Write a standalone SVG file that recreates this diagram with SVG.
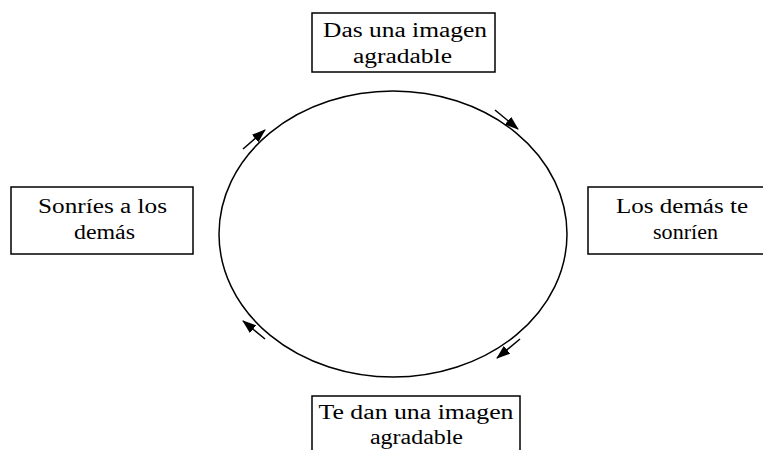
<svg xmlns="http://www.w3.org/2000/svg" width="763" height="450" viewBox="0 0 763 450">
<style>
.box{fill:#fff;stroke:#000;stroke-width:1.5}
.t{font-family:"Liberation Serif","Times New Roman",serif;font-size:20px;fill:#000;text-anchor:middle}
.c{stroke:#000;stroke-width:1.5;fill:none}
</style>
<defs>
<marker id="ah" markerUnits="userSpaceOnUse" markerWidth="14" markerHeight="10" refX="13" refY="5" orient="auto">
<path d="M0,0 L14,5 L0,10 Z" fill="#000"/>
</marker>
</defs>
<rect width="763" height="450" fill="#fff"/>
<g id="connectors">
<ellipse class="c" cx="393" cy="234" rx="174" ry="143"/>
<line class="c" x1="243" y1="149" x2="265" y2="130" marker-end="url(#ah)"/>
<line class="c" x1="495" y1="110" x2="518" y2="129" marker-end="url(#ah)"/>
<line class="c" x1="520" y1="339" x2="497" y2="358" marker-end="url(#ah)"/>
<line class="c" x1="265" y1="339" x2="243" y2="321" marker-end="url(#ah)"/>
</g>
<g id="top">
<rect class="box" x="312" y="13" width="183" height="59"/>
<text class="t" x="405" y="37" textLength="164" lengthAdjust="spacingAndGlyphs">Das una imagen</text>
<text class="t" x="402.500" y="63" textLength="99" lengthAdjust="spacingAndGlyphs">agradable</text>
</g>
<g id="left">
<rect class="box" x="11" y="187" width="182" height="67"/>
<text class="t" x="102.500" y="213" textLength="129" lengthAdjust="spacingAndGlyphs">Sonríes a los</text>
<text class="t" x="104.500" y="239" textLength="61" lengthAdjust="spacingAndGlyphs">demás</text>
</g>
<g id="right">
<rect class="box" x="588" y="187" width="188" height="67"/>
<text class="t" x="682" y="213" textLength="132" lengthAdjust="spacingAndGlyphs">Los demás te</text>
<text class="t" x="685.500" y="239" textLength="65" lengthAdjust="spacingAndGlyphs">sonríen</text>
</g>
<g id="bottom">
<rect class="box" x="312" y="396" width="208" height="70"/>
<text class="t" x="416" y="419" textLength="195" lengthAdjust="spacingAndGlyphs">Te dan una imagen</text>
<text class="t" x="416.500" y="444" textLength="93" lengthAdjust="spacingAndGlyphs">agradable</text>
</g>
</svg>
